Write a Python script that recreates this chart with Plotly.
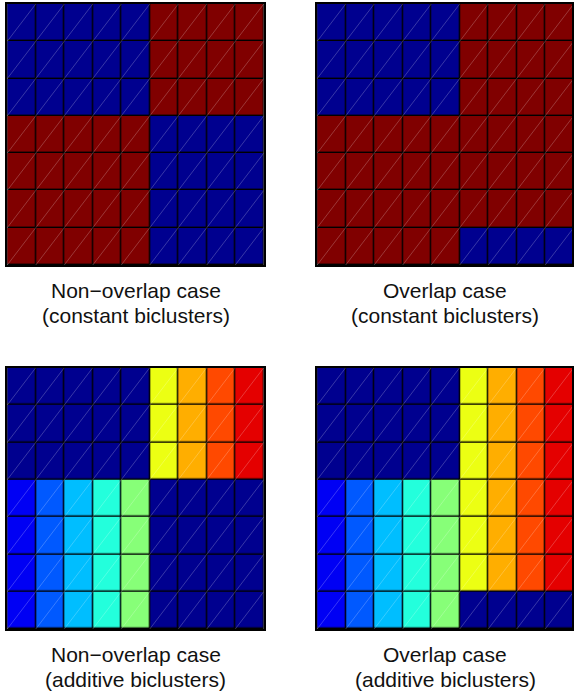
import plotly.graph_objects as go

# ---- data -------------------------------------------------------------
n_rows, n_cols = 7, 9

# constant biclusters (0 = background, 1 = bicluster)
nonoverlap_constant = [
    [0, 0, 0, 0, 0, 1, 1, 1, 1],
    [0, 0, 0, 0, 0, 1, 1, 1, 1],
    [0, 0, 0, 0, 0, 1, 1, 1, 1],
    [1, 1, 1, 1, 1, 0, 0, 0, 0],
    [1, 1, 1, 1, 1, 0, 0, 0, 0],
    [1, 1, 1, 1, 1, 0, 0, 0, 0],
    [1, 1, 1, 1, 1, 0, 0, 0, 0],
]
overlap_constant = [
    [0, 0, 0, 0, 0, 1, 1, 1, 1],
    [0, 0, 0, 0, 0, 1, 1, 1, 1],
    [0, 0, 0, 0, 0, 1, 1, 1, 1],
    [1, 1, 1, 1, 1, 1, 1, 1, 1],
    [1, 1, 1, 1, 1, 1, 1, 1, 1],
    [1, 1, 1, 1, 1, 1, 1, 1, 1],
    [1, 1, 1, 1, 1, 0, 0, 0, 0],
]
# additive biclusters (column effects)
nonoverlap_additive = [
    [0, 0, 0, 0, 0, 6, 7, 8, 9],
    [0, 0, 0, 0, 0, 6, 7, 8, 9],
    [0, 0, 0, 0, 0, 6, 7, 8, 9],
    [1, 2, 3, 4, 5, 0, 0, 0, 0],
    [1, 2, 3, 4, 5, 0, 0, 0, 0],
    [1, 2, 3, 4, 5, 0, 0, 0, 0],
    [1, 2, 3, 4, 5, 0, 0, 0, 0],
]
overlap_additive = [
    [0, 0, 0, 0, 0, 6, 7, 8, 9],
    [0, 0, 0, 0, 0, 6, 7, 8, 9],
    [0, 0, 0, 0, 0, 6, 7, 8, 9],
    [1, 2, 3, 4, 5, 6, 7, 8, 9],
    [1, 2, 3, 4, 5, 6, 7, 8, 9],
    [1, 2, 3, 4, 5, 6, 7, 8, 9],
    [1, 2, 3, 4, 5, 0, 0, 0, 0],
]
panel_titles = [
    ("Non\u2212overlap case", "(constant biclusters)"),
    ("Overlap case", "(constant biclusters)"),
    ("Non\u2212overlap case", "(additive biclusters)"),
    ("Overlap case", "(additive biclusters)"),
]
panel_data = [nonoverlap_constant, overlap_constant, nonoverlap_additive, overlap_additive]
panel_zmax = [1, 1, 10, 10]

# MATLAB-like jet colormap
jet = [
    [0.0, "#00008F"],
    [7 / 63, "#0000FF"],
    [23 / 63, "#00FFFF"],
    [39 / 63, "#FFFF00"],
    [55 / 63, "#FF0000"],
    [1.0, "#800000"],
]

# ---- layout geometry --------------------------------------------------
W, H = 574, 697
cell_w = 28.6
left_px = [7.3, 318.3]
top_px = [(4.0, 265.0), (367.7, 629.0)]

fig = go.Figure()
annotations = []

for p, z in enumerate(panel_data):
    r, c = divmod(p, 2)
    idx = p + 1
    xa = "x" if idx == 1 else f"x{idx}"
    ya = "y" if idx == 1 else f"y{idx}"
    fig.add_trace(go.Heatmap(
        z=z, x=list(range(n_cols)), y=list(range(n_rows)),
        colorscale=jet, zmin=0, zmax=panel_zmax[p], showscale=False,
        xgap=1.4, ygap=1.4, hoverinfo="skip", xaxis=xa, yaxis=ya,
    ))
    # faint diagonal in each cell (bottom-left to top-right)
    dx, dy = [], []
    for i in range(n_rows):
        for j in range(n_cols):
            dx += [j - 0.5, j + 0.5, None]
            dy += [i + 0.5, i - 0.5, None]
    fig.add_trace(go.Scatter(
        x=dx, y=dy, mode="lines", line=dict(color="rgba(255,255,255,0.22)", width=1),
        hoverinfo="skip", showlegend=False, xaxis=xa, yaxis=ya,
    ))

    x0 = left_px[c]
    x1 = x0 + n_cols * cell_w
    xr_end = n_cols - 0.5 - max(0.0, x1 - W) / cell_w
    xdom = [x0 / W, min(x1, W) / W]
    y0, y1 = top_px[r]
    ydom = [1 - y1 / H, 1 - y0 / H]
    ax_common = dict(showgrid=False, zeroline=False, showticklabels=False, ticks="",
                     showline=True, linecolor="black", linewidth=1.5, mirror=True)
    layout_x = "xaxis" if idx == 1 else f"xaxis{idx}"
    layout_y = "yaxis" if idx == 1 else f"yaxis{idx}"
    fig.update_layout(**{
        layout_x: dict(domain=xdom, range=[-0.5, xr_end], anchor=ya, **ax_common),
        layout_y: dict(domain=ydom, range=[n_rows - 0.5, -0.5], anchor=xa, **ax_common),
    })

    cx = ((x0 + x1) / 2) / W
    line1, line2 = panel_titles[p]
    mid1 = y1 + 25.4
    mid2 = y1 + 50.5
    for txt, m in ((line1, mid1), (line2, mid2)):
        annotations.append(dict(
            text=txt, x=cx, y=1 - m / H, xref="paper", yref="paper",
            xanchor="center", yanchor="middle", showarrow=False,
            font=dict(family="Liberation Sans, Arial, sans-serif", size=21, color="#111111"),
        ))

fig.update_layout(
    width=W, height=H, margin=dict(l=0, r=0, t=0, b=0),
    paper_bgcolor="white", plot_bgcolor="black",
    annotations=annotations, showlegend=False,
)

fig.write_html(
    "out.html",
    config={"displayModeBar": False},
    post_script="document.body.style.margin='0';document.body.style.overflow='hidden';",
)
